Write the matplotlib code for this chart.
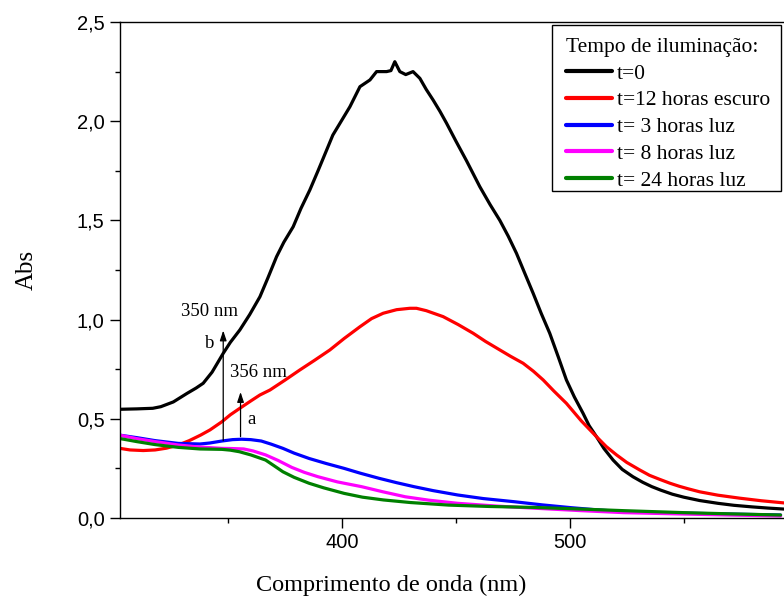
import matplotlib
matplotlib.use("Agg")
import matplotlib.pyplot as plt
from matplotlib.ticker import MultipleLocator, FuncFormatter
from matplotlib.patches import Rectangle

# ---- data ----
wl_t0 = [302.6, 310, 317, 320.5, 326, 332, 336, 339.1, 343, 347.9, 351, 355.2, 359.5, 364,
         367.5, 371.3, 374.5, 378.6, 382, 385.9, 389.5, 393.3, 396, 399.1, 403.5, 407.9,
         412.3, 415.2, 419.6, 421.5, 423.2, 425.4, 428, 431.2, 434.2, 437, 440, 443,
         445.9, 450, 454.7, 460.5, 465, 469.3, 473, 476.6, 480, 483.9, 487.5, 491.2,
         495, 498.5, 502, 505.8, 508.5, 511.7, 515, 519, 523, 527.7, 532, 536, 540,
         545, 550, 557, 565, 572, 580, 587, 594]
abs_t0 = [0.548, 0.550, 0.553, 0.561, 0.585, 0.628, 0.655, 0.679, 0.735, 0.830, 0.885, 0.948,
          1.025, 1.115, 1.21, 1.317, 1.39, 1.468, 1.56, 1.653, 1.75, 1.855, 1.93, 1.989,
          2.073, 2.174, 2.208, 2.25, 2.25, 2.255, 2.30, 2.25, 2.235, 2.25, 2.216, 2.16,
          2.107, 2.05, 1.99, 1.90, 1.80, 1.67, 1.58, 1.50, 1.42, 1.334, 1.24, 1.133,
          1.03, 0.931, 0.81, 0.696, 0.61, 0.528, 0.465, 0.41, 0.35, 0.292, 0.245, 0.208,
          0.18, 0.158, 0.14, 0.12, 0.105, 0.088, 0.074, 0.064, 0.056, 0.05, 0.045]

wl_t12 = [302.6, 307, 312.8, 318, 323, 328.2, 333, 338, 342.1, 347.3, 351, 355.2, 360,
          364, 368.4, 375, 381.5, 388, 394.7, 401, 407.9, 413, 418.1, 424, 429.8, 432.7,
          437, 444.4, 451, 457.6, 463, 469.3, 474, 479.5, 484, 488.3, 493, 498.5, 505,
          511.7, 516, 520.5, 525, 530.7, 535, 539.4, 544, 548, 552, 557, 565, 574.5,
          584, 594]
abs_t12 = [0.351, 0.343, 0.34, 0.343, 0.352, 0.368, 0.39, 0.418, 0.444, 0.485, 0.52, 0.553,
           0.59, 0.62, 0.645, 0.695, 0.746, 0.795, 0.847, 0.905, 0.964, 1.005, 1.032,
           1.05, 1.057, 1.057, 1.045, 1.015, 0.975, 0.931, 0.89, 0.847, 0.815, 0.78,
           0.74, 0.696, 0.64, 0.578, 0.49, 0.41, 0.36, 0.318, 0.28, 0.242, 0.215, 0.195,
           0.175, 0.16, 0.147, 0.132, 0.115, 0.10, 0.087, 0.076]

wl_t3 = [302.3, 310, 318, 328.2, 337.7, 342, 347.3, 352, 355.9, 360, 364.6, 369, 374.1,
         379, 385.6, 393, 401, 408, 416.3, 424, 431.6, 440, 450.8, 462, 475.7, 488,
         500.6, 512, 523.6, 538, 552.3, 570, 592.5]
abs_t3 = [0.418, 0.405, 0.39, 0.376, 0.373, 0.378, 0.388, 0.395, 0.397, 0.395, 0.388, 0.372,
          0.351, 0.327, 0.30, 0.275, 0.25, 0.226, 0.20, 0.178, 0.158, 0.138, 0.116, 0.098,
          0.082, 0.066, 0.052, 0.041, 0.032, 0.027, 0.024, 0.02, 0.015]

wl_t8 = [302.3, 310, 318, 328.2, 337, 347.3, 352, 356.9, 361, 366.5, 372, 378, 383.5,
         389.5, 398, 408.6, 418, 427.8, 438, 450.8, 468, 485.2, 505, 523.6, 550, 570,
         592.5]
abs_t8 = [0.418, 0.40, 0.385, 0.368, 0.358, 0.351, 0.35, 0.348, 0.338, 0.318, 0.29, 0.255,
          0.23, 0.208, 0.182, 0.158, 0.132, 0.107, 0.09, 0.074, 0.06, 0.049, 0.037, 0.027,
          0.02, 0.015, 0.01]

wl_t24 = [302.3, 310, 318, 328.2, 337.7, 347.3, 351, 355, 360, 366.5, 370, 374.1, 379,
          385.6, 392, 401, 409, 418.2, 430, 446.9, 465, 485.2, 505, 523.6, 550, 570,
          592.5]
abs_t24 = [0.401, 0.385, 0.37, 0.356, 0.348, 0.346, 0.342, 0.334, 0.318, 0.292, 0.265, 0.233,
           0.205, 0.175, 0.152, 0.124, 0.105, 0.091, 0.078, 0.065, 0.058, 0.053, 0.045,
           0.037, 0.027, 0.021, 0.015]

labels = ["t=0", "t=12 horas escuro", "t= 3 horas luz", "t= 8 horas luz", "t= 24 horas luz"]
colors = ["#000000", "#ff0000", "#0000ff", "#ff00ff", "#008000"]

# annotations: (wavelength, y_start, y_end)
arrow_b = (347.9, 0.39, 0.945)
arrow_a = (355.5, 0.41, 0.635)

serif = ["Liberation Serif", "DejaVu Serif"]
sans = ["Liberation Sans", "DejaVu Sans"]

W, H = 784, 601
fig = plt.figure(figsize=(W/100, H/100), dpi=100)
ax = fig.add_axes([120/W, 1-518/H, 1-120/W, (518-22)/H])

series = [(wl_t0, abs_t0), (wl_t12, abs_t12), (wl_t3, abs_t3), (wl_t8, abs_t8), (wl_t24, abs_t24)]
for (x, y), lab, c in zip(series, labels, colors):
    ax.plot(x, y, color=c, lw=2.3, label=lab, solid_joinstyle="round", solid_capstyle="round")

ax.set_xlim(302.6, 594)
ax.set_ylim(0, 2.5)

ax.xaxis.set_major_locator(MultipleLocator(100))
ax.xaxis.set_minor_locator(MultipleLocator(50))
ax.yaxis.set_major_locator(MultipleLocator(0.5))
ax.yaxis.set_minor_locator(MultipleLocator(0.25))
ax.yaxis.set_major_formatter(FuncFormatter(lambda v, p: f"{v:.1f}".replace(".", ",")))
ax.xaxis.set_major_formatter(FuncFormatter(lambda v, p: f"{v:.0f}"))

ax.tick_params(which="major", direction="out", length=7, width=1.0, labelsize=14.5, pad=4)
ax.tick_params(which="minor", direction="out", length=3.8, width=1.0)
for lbl in ax.get_xticklabels() + ax.get_yticklabels():
    lbl.set_fontfamily(sans)

ax.spines["right"].set_visible(False)
for s in ["left", "bottom", "top"]:
    ax.spines[s].set_linewidth(1.0)

ax.set_xlabel("Comprimento de onda (nm)", fontsize=17.5, family=serif)
ax.xaxis.set_label_coords((391-120)/664, -0.115)
ax.set_ylabel("Abs", fontsize=18, family=serif)
ax.yaxis.set_label_coords((38-120)/664, 0.5)

# arrows
for (xv, y0, y1) in (arrow_b, arrow_a):
    ax.annotate("", xy=(xv, y1), xytext=(xv, y0),
                arrowprops=dict(arrowstyle="-|>,head_length=0.6,head_width=0.2",
                                color="black", lw=0.9, shrinkA=0, shrinkB=0))
ax.text(341.8, 1.04, "350 nm", fontsize=13.5, family=serif, ha="center", va="center")
ax.text(341.9, 0.88, "b", fontsize=13.5, family=serif, ha="center", va="center")
ax.text(363.3, 0.732, "356 nm", fontsize=13.5, family=serif, ha="center", va="center")
ax.text(360.4, 0.497, "a", fontsize=13.5, family=serif, ha="center", va="center")

leg = ax.legend(loc="upper left", bbox_to_anchor=(566/W, 1-38/H),
                bbox_transform=fig.transFigure,
                title="Tempo de iluminação:", title_fontproperties={"family": serif, "size": 15.5},
                prop={"family": serif, "size": 15.5}, frameon=False,
                handlelength=2.15, handletextpad=0.22,
                labelspacing=0.31, borderpad=0, borderaxespad=0)
leg._legend_box.align = "left"
leg.set_zorder(6)
for h in leg.get_lines():
    h.set_linewidth(3)

frame = Rectangle((552/W, 1-191/H), (781-552)/W, (191-25)/H, transform=fig.transFigure,
                  facecolor="white", edgecolor="black", lw=1.0, zorder=5.5, clip_on=False)
ax.add_patch(frame)

fig.savefig("out.png", dpi=100)
